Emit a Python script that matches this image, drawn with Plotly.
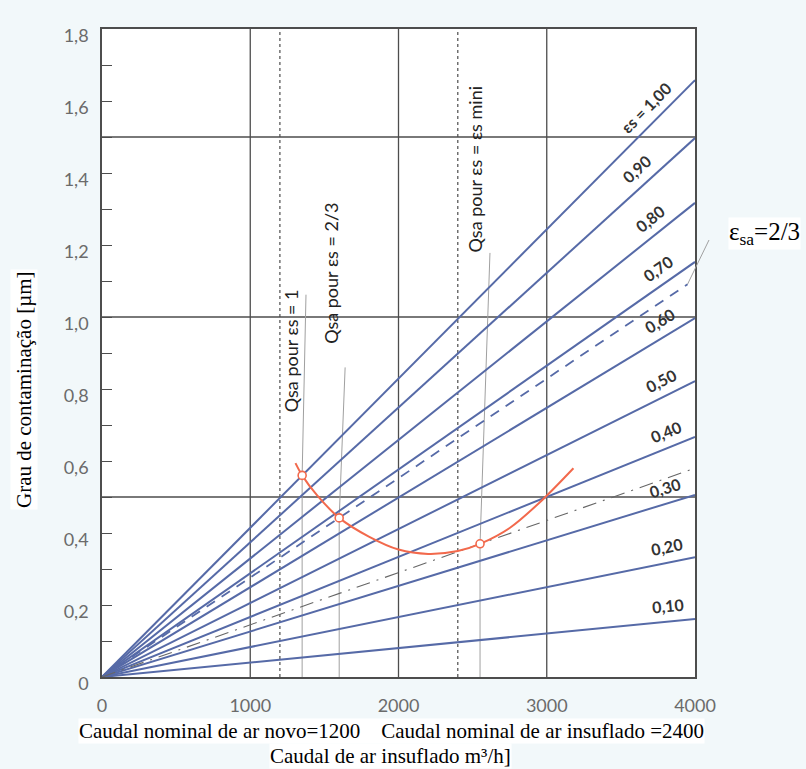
import math
import plotly.graph_objects as go

# ---- data -------------------------------------------------------------
x_max = 4000
y_max = 1.8

# efficiency lines εs: contamination reached at 4000 m³/h
eps_labels = ["εs = 1,00", "0,90", "0,80", "0,70", "0,60", "0,50", "0,40", "0,30", "0,20", "0,10"]
eps_end = [1.658, 1.497, 1.317, 1.153, 0.997, 0.822, 0.667, 0.506, 0.333, 0.161]
eps_label_x = [3744, 3683, 3764, 3811, 3818, 3818, 3845, 3831, 3831, 3831]

# εsa = 2/3 (dashed) and εs mini (dash-dot) lines
eps_sa_end = 1.105
eps_sa_stop = 3950
mini_end = 0.58

# Qsa operating points
qsa_x = [1350, 1600, 2550]
qsa_y = [0.560, 0.442, 0.370]
qsa_labels = ["Qsa pour εs = 1", "Qsa pour εs = 2/3", "Qsa pour εs = εs mini"]
qsa_label_x = [1275, 1545, 2516]
qsa_label_y = [0.905, 1.120, 1.410]
leader_top_x = [1376, 1640, 2617]
leader_top_y = [1.062, 0.860, 1.178]

# contamination curve through the operating points
curve_x = [1305, 1350, 1450, 1600, 1800, 2000, 2200, 2400, 2550, 2750, 2950, 3180]
curve_y = [0.594, 0.560, 0.505, 0.442, 0.390, 0.354, 0.342, 0.350, 0.370, 0.414, 0.484, 0.580]

# reference grid
grid_x = [1000, 2000, 3000]
grid_y = [0.5, 1.0, 1.5]
nominal_x = [1200, 2400]

y_ticks = [0, 0.2, 0.4, 0.6, 0.8, 1.0, 1.2, 1.4, 1.6, 1.8]
y_ticktext = ["0", "0,2", "0,4", "0,6", "0,8", "1,0", "1,2", "1,4", "1,6", "1,8"]
x_ticks = [0, 1000, 2000, 3000, 4000]

# ---- layout geometry ----------------------------------------------------
W, H = 806, 769
ML, MR, MT, MB = 102, 111, 29, 92
PW, PH = W - ML - MR, H - MT - MB

BLUE = "#566aa7"
RED = "#f2694c"
GRID = "#4d4d4d"
THIN = "#a0a0a0"
SERIF = "Liberation Serif"
SANS = "Lato"

fig = go.Figure()

# thin leaders from labels to points and verticals down to the axis
for lx, ly, px, py in zip(leader_top_x, leader_top_y, qsa_x, qsa_y):
    fig.add_trace(go.Scatter(x=[lx, px, px], y=[ly, py, 0], mode="lines",
                             line=dict(color=THIN, width=1), hoverinfo="skip",
                             showlegend=False))

# efficiency lines from the origin
for end in eps_end:
    fig.add_trace(go.Scatter(x=[0, x_max], y=[0, end], mode="lines",
                             line=dict(color=BLUE, width=2), hoverinfo="skip",
                             showlegend=False))

# εsa = 2/3 dashed line
fig.add_trace(go.Scatter(x=[0, eps_sa_stop], y=[0, eps_sa_end * eps_sa_stop / x_max],
                         mode="lines", line=dict(color=BLUE, width=1.8, dash="10px,8px"),
                         hoverinfo="skip", showlegend=False))

# εs mini dash-dot line
fig.add_trace(go.Scatter(x=[0, x_max], y=[0, mini_end], mode="lines",
                         line=dict(color="#666666", width=1.1, dash="14px,7px,2px,7px"),
                         hoverinfo="skip", showlegend=False))

# contamination curve and its operating points
fig.add_trace(go.Scatter(x=curve_x, y=curve_y, mode="lines",
                         line=dict(color=RED, width=2, shape="spline", smoothing=0.9),
                         hoverinfo="skip", showlegend=False))
fig.add_trace(go.Scatter(x=qsa_x, y=qsa_y, mode="markers",
                         marker=dict(symbol="circle", size=8, color="white",
                                     line=dict(color=RED, width=1.6)),
                         hoverinfo="skip", showlegend=False))

shapes = []
for gx in grid_x:
    shapes.append(dict(type="line", xref="x", yref="y", x0=gx, x1=gx, y0=0, y1=y_max,
                       line=dict(color=GRID, width=1.3), layer="below"))
for gy in grid_y:
    shapes.append(dict(type="line", xref="x", yref="y", x0=0, x1=x_max, y0=gy, y1=gy,
                       line=dict(color=GRID, width=1.3), layer="below"))
for nx in nominal_x:
    shapes.append(dict(type="line", xref="x", yref="y", x0=nx, x1=nx, y0=0, y1=y_max,
                       line=dict(color=GRID, width=1.2, dash="3px,3px"), layer="below"))

# leader from the dashed line end to the εsa label (outside the plot area)
sa_px = eps_sa_stop / x_max
sa_py = eps_sa_end * eps_sa_stop / x_max / y_max
shapes.append(dict(type="line", xref="paper", yref="paper",
                   x0=sa_px, y0=sa_py, x1=(709 - ML) / PW, y1=(H - MB - 240) / PH,
                   line=dict(color=THIN, width=1)))

annotations = []
# εs labels, parallel to and just above each line
offset = 16
for lab, end, lx in zip(eps_labels, eps_end, eps_label_x):
    slope_px = (end / y_max * PH) / PW
    theta = math.atan(slope_px)
    annotations.append(dict(
        x=lx, y=end * lx / x_max, xref="x", yref="y", text=lab, showarrow=False,
        textangle=-math.degrees(theta),
        xshift=-offset * math.sin(theta), yshift=offset * math.cos(theta),
        font=dict(family=SANS, size=16, color="#333333", weight="bold"),
        xanchor="center", yanchor="middle"))

# Qsa labels (vertical)
for lab, lx, ly in zip(qsa_labels, qsa_label_x, qsa_label_y):
    annotations.append(dict(
        x=lx, y=ly, xref="x", yref="y", text=lab, showarrow=False, textangle=-90,
        font=dict(family=SANS, size=18, color="#222222"),
        xanchor="center", yanchor="middle"))

# εsa label
annotations.append(dict(
    x=(728 - ML) / PW, y=(H - MB - 234) / PH, xref="paper", yref="paper",
    text="ε<sub>sa</sub>=2/3", showarrow=False, xanchor="left", yanchor="middle",
    font=dict(family=SERIF, size=25, color="black"), bgcolor="white", borderpad=0))

# axis titles
annotations.append(dict(
    x=(24 - ML) / PW, y=(H - MB - 390) / PH, xref="paper", yref="paper",
    text="Grau de contaminação [µm]", showarrow=False, textangle=-90,
    xanchor="center", yanchor="middle",
    font=dict(family=SERIF, size=21, color="black"), bgcolor="white"))
annotations.append(dict(
    x=(391 - ML) / PW, y=(H - MB - 731) / PH, xref="paper", yref="paper",
    text="Caudal nominal de ar novo=1200\u00a0\u00a0\u00a0\u00a0Caudal nominal de ar insuflado =2400",
    showarrow=False, xanchor="center", yanchor="middle",
    font=dict(family=SERIF, size=21, color="black"), bgcolor="white", borderpad=0))
annotations.append(dict(
    x=(390 - ML) / PW, y=(H - MB - 756) / PH, xref="paper", yref="paper",
    text="Caudal de ar insuflado m³/h]", showarrow=False,
    xanchor="center", yanchor="middle",
    font=dict(family=SERIF, size=21, color="black"), bgcolor="white", borderpad=0))

fig.update_layout(
    width=W, height=H, autosize=False,
    margin=dict(l=ML, r=MR, t=MT, b=MB, pad=0),
    paper_bgcolor="#f2f8fa", plot_bgcolor="white",
    shapes=shapes, annotations=annotations, showlegend=False,
    xaxis=dict(range=[0, x_max], tickvals=x_ticks, showgrid=False, zeroline=False,
               showline=True, mirror=True, linecolor=GRID, linewidth=1.5,
               ticks="", ticklabelstandoff=12,
               tickfont=dict(family=SANS, size=18, color="#6b6b6b")),
    yaxis=dict(range=[0, y_max], tickvals=y_ticks, ticktext=y_ticktext,
               showgrid=False, zeroline=False, showline=True, mirror=True,
               linecolor=GRID, linewidth=1.5,
               ticks="inside", ticklen=10, tickcolor=GRID, tickwidth=1.3,
               minor=dict(ticks="inside", dtick=0.1, ticklen=10, tickcolor=GRID,
                          tickwidth=1.3),
               ticklabelstandoff=8, ticklabelshift=7,
               tickfont=dict(family=SANS, size=18, color="#6b6b6b")),
)

fig.write_html("out.html")
